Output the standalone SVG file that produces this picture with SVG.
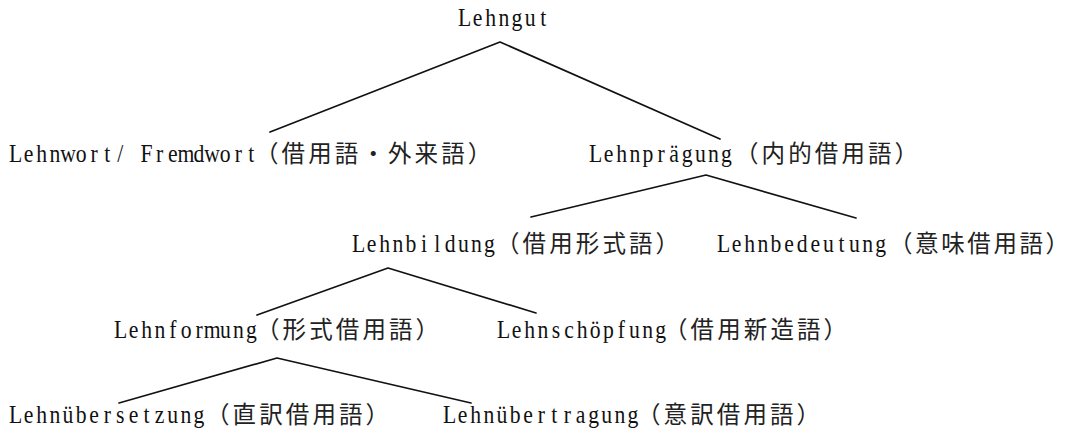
<svg xmlns="http://www.w3.org/2000/svg" width="1070" height="438" viewBox="0 0 1070 438">
<style>
.lat{font-family:"Liberation Serif","DejaVu Serif",serif;font-size:25.5px;fill:#111;text-anchor:middle}
.cjk{font-family:"Noto Sans CJK JP",sans-serif;font-size:23.5px;letter-spacing:3.1px;fill:#222}
.end{letter-spacing:0}
.edge{stroke:#111;stroke-width:1.7;fill:none;stroke-linecap:round;stroke-linejoin:round}
</style>
<rect width="1070" height="438" fill="#fff"/>
<g id="connectors">
<polyline class="edge" points="270,132 500,42 720,139"/>
<polyline class="edge" points="531,217 706,175 856,218"/>
<polyline class="edge" points="257,315 388,268 536,313"/>
<polyline class="edge" points="119,403 277,358 471,403"/>
</g>
<g id="n-lehngut">
<text class="lat" transform="translate(458,26) scale(0.85,1)" x="7.7 23.1 38.5 53.9 69.4 84.8 100.2">Lehngut</text>
</g>
<g id="n-lehnwort">
<text class="lat" transform="translate(9,162) scale(0.85,1)" x="7.7 23.1 38.5 53.9 69.4 84.8 100.2 115.6 131.0 146.4 161.8 177.2 192.6 208.1 223.5 238.9 254.3 269.7 285.1">Lehnwort/ Fremdwort</text>
<text class="cjk" x="255" y="162">（借用語・外来語<tspan class="end">）</tspan></text>
</g>
<g id="n-lehnpraegung">
<text class="lat" transform="translate(589,162) scale(0.85,1)" x="7.7 23.1 38.5 53.9 69.4 84.8 100.2 115.6 131.0 146.4 161.8">Lehnprägung</text>
<text class="cjk" x="735" y="162">（内的借用語<tspan class="end">）</tspan></text>
</g>
<g id="n-lehnbildung">
<text class="lat" transform="translate(352,252) scale(0.85,1)" x="7.7 23.1 38.5 53.9 69.4 84.8 100.2 115.6 131.0 146.4 161.8">Lehnbildung</text>
<text class="cjk" x="496" y="252">（借用形式語<tspan class="end">）</tspan></text>
</g>
<g id="n-lehnbedeutung">
<text class="lat" transform="translate(717,252) scale(0.85,1)" x="7.7 23.1 38.5 53.9 69.4 84.8 100.2 115.6 131.0 146.4 161.8 177.2 192.6">Lehnbedeutung</text>
<text class="cjk" x="889" y="252" style="letter-spacing:2.6px">（意味借用語<tspan class="end">）</tspan></text>
</g>
<g id="n-lehnformung">
<text class="lat" transform="translate(114,338) scale(0.85,1)" x="7.7 23.1 38.5 53.9 69.4 84.8 100.2 115.6 131.0 146.4 161.8">Lehnformung</text>
<text class="cjk" x="256" y="338">（形式借用語<tspan class="end">）</tspan></text>
</g>
<g id="n-lehnschoepfung">
<text class="lat" transform="translate(497,338) scale(0.85,1)" x="7.7 23.1 38.5 53.9 69.4 84.8 100.2 115.6 131.0 146.4 161.8 177.2 192.6">Lehnschöpfung</text>
<text class="cjk" x="664" y="338">（借用新造語<tspan class="end">）</tspan></text>
</g>
<g id="n-lehnuebersetzung">
<text class="lat" transform="translate(9,423) scale(0.85,1)" x="7.7 23.1 38.5 53.9 69.4 84.8 100.2 115.6 131.0 146.4 161.8 177.2 192.6 208.1 223.5">Lehnübersetzung</text>
<text class="cjk" x="206" y="423">（直訳借用語<tspan class="end">）</tspan></text>
</g>
<g id="n-lehnuebertragung">
<text class="lat" transform="translate(443,423) scale(0.85,1)" x="7.7 23.1 38.5 53.9 69.4 84.8 100.2 115.6 131.0 146.4 161.8 177.2 192.6 208.1 223.5">Lehnübertragung</text>
<text class="cjk" x="637" y="423">（意訳借用語<tspan class="end">）</tspan></text>
</g>
</svg>
